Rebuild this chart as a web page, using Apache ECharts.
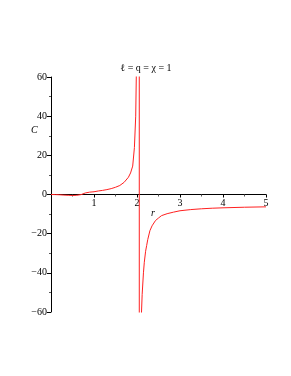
<!DOCTYPE html>
<html>
<head>
<meta charset="utf-8">
<script src="https://cdn.jsdelivr.net/npm/echarts@6/dist/echarts.min.js"></script>
<style>html,body{margin:0;padding:0;background:#fff}#c{width:291px;height:376px}</style>
</head>
<body>
<div id="c"></div>
<script>
const titleText = "ℓ = q = χ = 1";
const xLabel = "r";
const yLabel = "C";
const rValues = [0, 0.1, 0.2, 0.3, 0.4, 0.5, 0.6, 0.7, 0.8, 0.9, 1.0, 1.1, 1.2, 1.3, 1.4, 1.5, 1.6, 1.7, 1.8, 1.85, 1.9, 1.94, 1.97, 1.99, 2.02, 2.05,
  2.056, 2.07, 2.09, 2.105, 2.12, 2.15, 2.17, 2.2, 2.225, 2.25, 2.3, 2.35, 2.43, 2.5, 2.57, 2.7, 2.85, 3.0, 3.25, 3.5, 3.75, 4.0, 4.5, 5.0];
const cValues = [0, -0.05, -0.15, -0.3, -0.4, -0.5, -0.4, -0.05, 0.8, 1.2, 1.4, 1.8, 2.1, 2.5, 3.0, 3.7, 4.6, 6.2, 8.8, 11, 14.5, 24, 40, 70, 200, 2000,
  -2000, -400, -120, -60, -51, -40, -34.6, -29, -26, -23, -18.5, -16, -13.3, -12, -10.8, -9.8, -9.0, -8.3, -7.7, -7.3, -7.0, -6.8, -6.5, -6.3];
const xTicks = [0, 1, 2, 3, 4, 5];
const yTicks = [-60, -40, -20, 0, 20, 40, 60];

const data = rValues.map((r, i) => [r, cValues[i]]);
const serif = "'Liberation Serif', 'DejaVu Serif', serif";
const gridTop = 77, gridBottom = 64, H = 376;
const plotH = H - gridTop - gridBottom;
const yMin = yTicks[0], yMax = yTicks[yTicks.length - 1];
const zeroOffset = -plotH * (0 - yMin) / (yMax - yMin);

const chart = echarts.init(document.getElementById('c'), null, {renderer: 'canvas'});
chart.setOption({
  animation: false,
  backgroundColor: '#fff',
  title: {
    text: titleText, left: 141, top: 58, textAlign: 'center',
    textStyle: {fontFamily: serif, fontSize: 10, fontWeight: 'normal', color: '#000'}
  },
  grid: {left: 51, right: 25, top: gridTop, bottom: gridBottom, containLabel: false},
  xAxis: {
    type: 'value', min: xTicks[0], max: xTicks[xTicks.length - 1], interval: 1,
    position: 'bottom', offset: zeroOffset,
    axisLine: {onZero: false, lineStyle: {color: '#000', width: 1}},
    axisTick: {show: true, length: 3, lineStyle: {color: '#000'}},
    minorTick: {show: true, splitNumber: 2, length: 2, lineStyle: {color: '#555'}},
    axisLabel: {fontFamily: serif, fontSize: 10, color: '#000', margin: 4,
      formatter: v => v === 0 ? '' : String(v)},
    splitLine: {show: false}
  },
  yAxis: {
    type: 'value', min: yMin, max: yMax, interval: 20,
    axisLine: {show: true, onZero: false, lineStyle: {color: '#000', width: 1}},
    axisTick: {show: true, length: 4, lineStyle: {color: '#000'}},
    minorTick: {show: true, splitNumber: 2, length: 2, lineStyle: {color: '#555'}},
    axisLabel: {fontFamily: serif, fontSize: 10, color: '#000', margin: 4,
      formatter: v => v < 0 ? '\u2212' + Math.abs(v) : String(v)},
    splitLine: {show: false}
  },
  graphic: [
    {type: 'text', left: 31, top: 125, style: {text: yLabel, font: 'italic 10px ' + serif, fill: '#000'}},
    {type: 'text', left: 151, top: 208, style: {text: xLabel, font: 'italic 10px ' + serif, fill: '#000'}}
  ],
  series: [{
    type: 'line', data: data, showSymbol: false, clip: true, smooth: false,
    lineStyle: {color: '#ff2020', width: 1}, itemStyle: {color: '#ff2020'}
  }]
});
</script>
</body>
</html>
